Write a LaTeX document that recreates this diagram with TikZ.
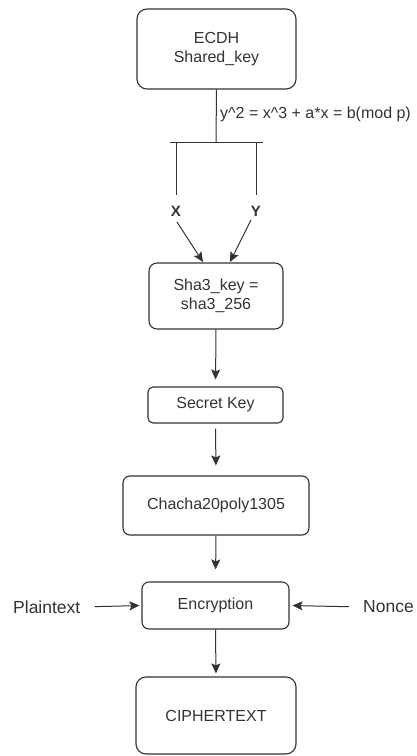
\documentclass[tikz,border=0pt]{standalone}
\usepackage{fontspec}
\setmainfont{Liberation Sans}
\usetikzlibrary{arrows.meta}
\definecolor{ink}{HTML}{333333}
\definecolor{txt}{HTML}{333333}
\begin{document}
\begin{tikzpicture}[x=1pt,y=-1pt,
  box/.style={draw=ink,line width=1.1pt,fill=white,align=center,text=txt,
    font=\fontsize{16}{19}\selectfont,inner sep=0pt},
  conn/.style={draw=ink,line width=1pt},
  arr/.style={conn,-{Stealth[length=10pt,width=9pt,inset=2pt]}},
  lbl/.style={text=txt,font=\fontsize{17.5}{20}\selectfont,inner sep=0pt},
  xy/.style={text=txt,font=\bfseries\fontsize{15}{18}\selectfont,inner sep=0pt}]
\useasboundingbox (0,0) rectangle (417,756);
\fill[white] (0,0) rectangle (417,756);

\node[box,rounded corners=10pt,minimum width=159pt,minimum height=80pt] (ecdh) at (216.5,49) {ECDH\\Shared\_key};
\node[box,rounded corners=8pt,minimum width=134pt,minimum height=66pt] (sha) at (216,296) {Sha3\_key =\\sha3\_256};
\node[box,rounded corners=5pt,minimum width=135pt,minimum height=36pt] (secret) at (215.5,405) {Secret Key};
\node[box,rounded corners=7pt,minimum width=186pt,minimum height=59pt] (chacha) at (216,505.5) {Chacha20poly1305};
\node[box,rounded corners=7pt,minimum width=147pt,minimum height=47pt] (enc) at (215.5,605.5) {Encryption};
\node[box,rounded corners=10pt,minimum width=160pt,minimum height=77pt] (cipher) at (216,715.5) {CIPHERTEXT};

\node[anchor=west,text=txt,font=\fontsize{16}{19}\selectfont,inner sep=0pt] (formula) at (220,114) {y\^{}2 = x\^{}3 + a*x = b(mod p)};

\node[lbl,anchor=west] (plain) at (13,607) {Plaintext};
\node[lbl,anchor=west] (nonce) at (363,607) {Nonce};

\node[xy] (X) at (176,211) {X};
\node[xy] (Y) at (256,211) {Y};

\coordinate (barmid) at (216,142);
\coordinate (barL) at (170,142);
\coordinate (barR) at (263,142);
\coordinate (vL) at (176,142);
\coordinate (vLb) at (176,195);
\coordinate (vR) at (256,142);
\coordinate (vRb) at (256,195);
\coordinate (xs) at (177,222);
\coordinate (ys) at (251,220);
\coordinate (xe) at (203,262);
\coordinate (ye) at (230,262);

\draw[conn] (ecdh.south) -- (barmid);
\draw[conn] (barL) -- (barR);
\draw[conn] (vL) -- (vLb);
\draw[conn] (vR) -- (vRb);
\draw[arr] (xs) -- (xe);
\draw[arr] (ys) -- (ye);

\draw[arr,shorten >=7pt] (sha.south) -- (secret.north);
\draw[arr,shorten <=5pt,shorten >=10pt] (secret.south) -- (chacha.north);
\draw[arr,shorten >=12pt] (chacha.south) -- (enc.north);
\draw[arr,shorten >=3pt] (enc.south) -- (cipher.north);
\draw[arr,shorten <=14pt,shorten >=2pt] (plain.east) -- (enc.west);
\draw[arr,shorten <=14pt,shorten >=3pt] (nonce.west) -- (enc.east);
\end{tikzpicture}
\end{document}
